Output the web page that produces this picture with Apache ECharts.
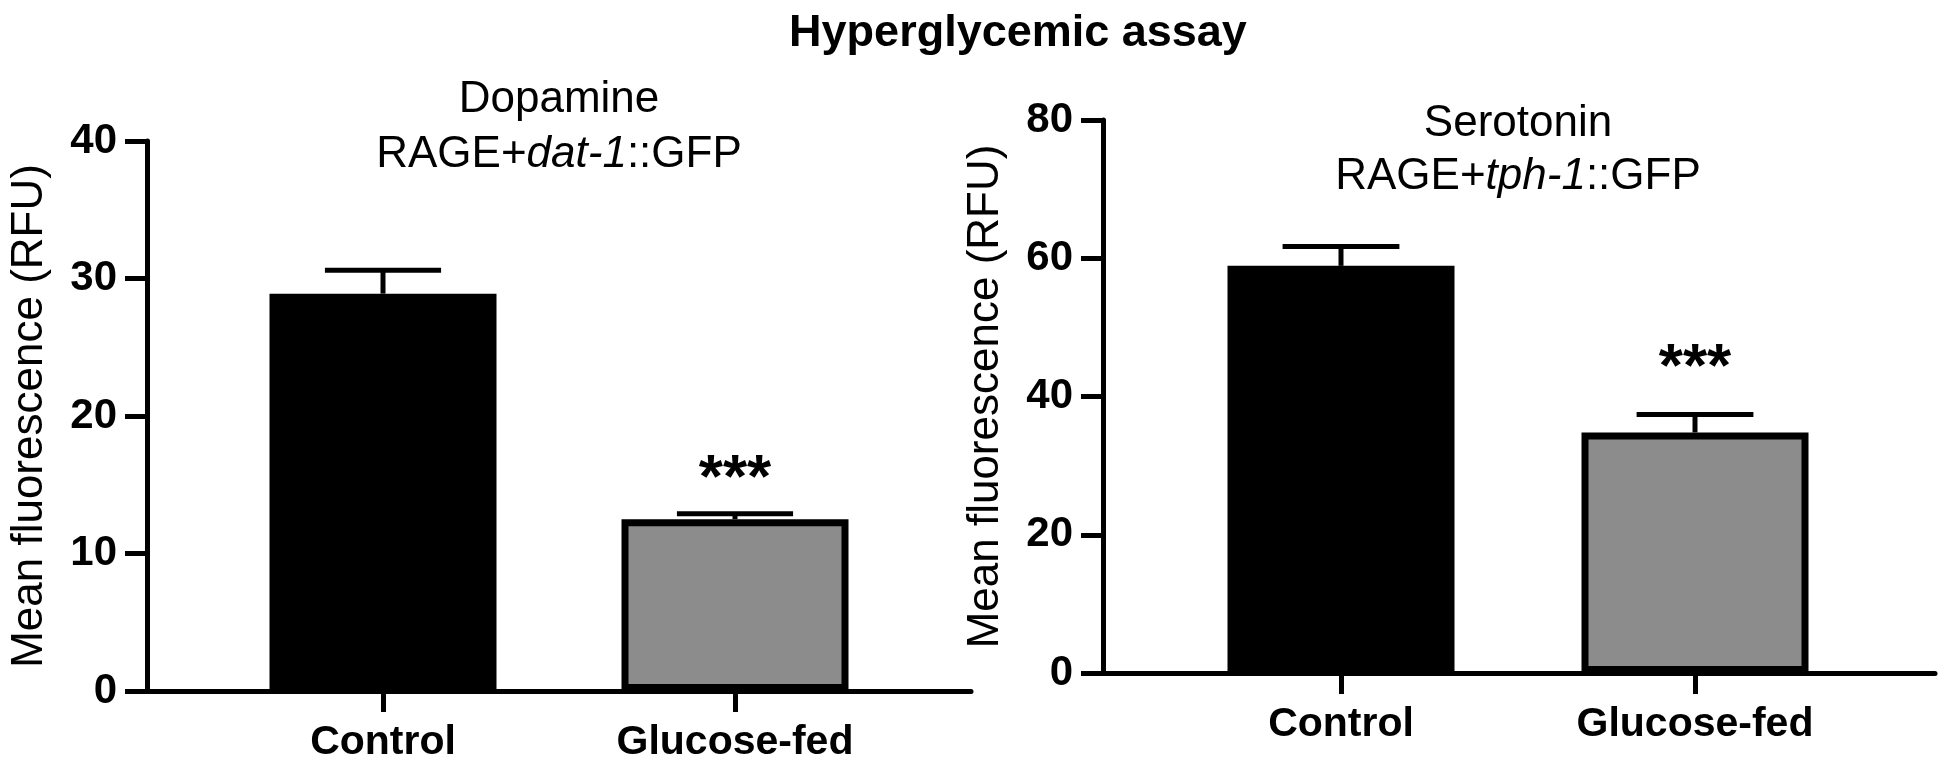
<!DOCTYPE html>
<html>
<head>
<meta charset="utf-8">
<script src="https://cdn.jsdelivr.net/npm/echarts@6/dist/echarts.min.js"></script>
<style>
html,body{margin:0;padding:0;background:#fff;}
#chart{width:1950px;height:778px;}
</style>
</head>
<body>
<div id="chart"></div>
<script>
// ---------- data ----------
const categories = ['Control', 'Glucose-fed'];
const dopamineMean = [28.9, 12.5];
const dopamineSem = [1.7, 0.4];
const serotoninMean = [58.9, 34.8];
const serotoninSem = [2.8, 2.6];
const significance = ['', '***'];
const dopamineTicks = [0, 10, 20, 30, 40];
const serotoninTicks = [0, 20, 40, 60, 80];
const barColors = ['#000000', '#8c8c8c'];

const FONT = 'Liberation Sans, Arial, Helvetica, sans-serif';

function tickCfg(ticks) {
  return { min: ticks[0], max: ticks[ticks.length - 1], interval: ticks[1] - ticks[0] };
}

function panel(idx, frame, bars, ticks, mean, sem, starOffset) {
  const g0 = idx * 2, g1 = idx * 2 + 1;
  const t = tickCfg(ticks);
  const grids = [
    { left: frame.left, top: frame.top, width: frame.width, height: frame.height },
    { left: bars.left, top: frame.top, width: bars.width, height: frame.height }
  ];
  const xAxes = [
    { gridIndex: g0, type: 'value', min: 0, max: 1,
      axisLine: { show: true, lineStyle: { color: '#000', width: 5 } },
      axisTick: { show: false }, axisLabel: { show: false }, splitLine: { show: false } },
    { gridIndex: g1, type: 'category', data: categories,
      axisLine: { show: false },
      axisTick: { show: true, alignWithLabel: true, length: 21, lineStyle: { color: '#000', width: 5 } },
      axisLabel: { color: '#000', fontFamily: FONT, fontSize: 41, fontWeight: 'bold', margin: 31 },
      splitLine: { show: false } }
  ];
  const yAxes = [
    { gridIndex: g0, type: 'value', min: t.min, max: t.max, interval: t.interval,
      name: 'Mean fluorescence (RFU)', nameLocation: 'middle', nameGap: 95,
      nameTextStyle: { color: '#000', fontFamily: FONT, fontSize: 44 },
      axisLine: { show: true, lineStyle: { color: '#000', width: 5 } },
      axisTick: { show: true, length: 22, lineStyle: { color: '#000', width: 5 } },
      axisLabel: { color: '#000', fontFamily: FONT, fontSize: 42, fontWeight: 'bold', margin: 30 },
      splitLine: { show: false } },
    { gridIndex: g1, type: 'value', min: t.min, max: t.max, interval: t.interval, show: false,
      splitLine: { show: false } }
  ];
  const series = [
    { type: 'bar', xAxisIndex: g1, yAxisIndex: g1, barWidth: 227,
      data: mean.map((v, i) => ({ value: v, itemStyle: { color: barColors[i] } })),
      itemStyle: { borderColor: '#000', borderWidth: 7 }, z: 2 },
    { type: 'custom', xAxisIndex: g1, yAxisIndex: g1, z: 3,
      data: mean.map((v, i) => [i, v, sem[i]]),
      encode: { x: 0, y: 1 },
      renderItem: function (params, api) {
        const x = api.value(0), m = api.value(1), s = api.value(2);
        const p0 = api.coord([x, m]);
        const p1 = api.coord([x, m + s]);
        const half = api.size([1, 0])[0] * 0.165;
        const st = { stroke: '#000', lineWidth: 5 };
        const children = [
          { type: 'line', shape: { x1: p0[0], y1: p0[1], x2: p1[0], y2: p1[1] }, style: st },
          { type: 'line', shape: { x1: p1[0] - half, y1: p1[1], x2: p1[0] + half, y2: p1[1] }, style: st }
        ];
        const sig = significance[params.dataIndex];
        if (sig) {
          children.push({ type: 'text', x: p1[0], y: p1[1] - starOffset,
            style: { text: sig, fill: '#000', font: 'bold 62px ' + FONT, align: 'center', verticalAlign: 'middle' } });
        }
        return { type: 'group', children: children };
      } }
  ];
  return { grids, xAxes, yAxes, series };
}

const left = panel(0, { left: 147, top: 141, width: 824, height: 550 },
  { left: 207, width: 704 }, dopamineTicks, dopamineMean, dopamineSem, 34);
const right = panel(1, { left: 1103, top: 120, width: 832, height: 553 },
  { left: 1164, width: 708 }, serotoninTicks, serotoninMean, serotoninSem, 46);

const subRich = {
  n: { fontFamily: FONT, fontSize: 44, color: '#000' },
  i: { fontFamily: FONT, fontSize: 44, color: '#000', fontStyle: 'italic' }
};

const option = {
  animation: false,
  backgroundColor: '#fff',
  title: [
    { text: 'Hyperglycemic assay', left: 1018, top: 11, padding: 0, textAlign: 'center',
      textStyle: { fontFamily: FONT, fontSize: 45, fontWeight: 'bold', color: '#000' } },
    { text: 'Dopamine', left: 559, top: 78, padding: 0, textAlign: 'center',
      textStyle: { fontFamily: FONT, fontSize: 44, fontWeight: 'normal', color: '#000' } },
    { text: '{n|RAGE+}{i|dat-1}{n|::GFP}', left: 559, top: 133, padding: 0, textAlign: 'center',
      textStyle: { fontFamily: FONT, fontSize: 44, fontWeight: 'normal', color: '#000', rich: subRich } },
    { text: 'Serotonin', left: 1518, top: 102, padding: 0, textAlign: 'center',
      textStyle: { fontFamily: FONT, fontSize: 44, fontWeight: 'normal', color: '#000' } },
    { text: '{n|RAGE+}{i|tph-1}{n|::GFP}', left: 1518, top: 155, padding: 0, textAlign: 'center',
      textStyle: { fontFamily: FONT, fontSize: 44, fontWeight: 'normal', color: '#000', rich: subRich } }
  ],
  grid: left.grids.concat(right.grids),
  xAxis: left.xAxes.concat(right.xAxes),
  yAxis: left.yAxes.concat(right.yAxes),
  series: left.series.concat(right.series)
};

const chart = echarts.init(document.getElementById('chart'));
chart.setOption(option);
</script>
</body>
</html>
